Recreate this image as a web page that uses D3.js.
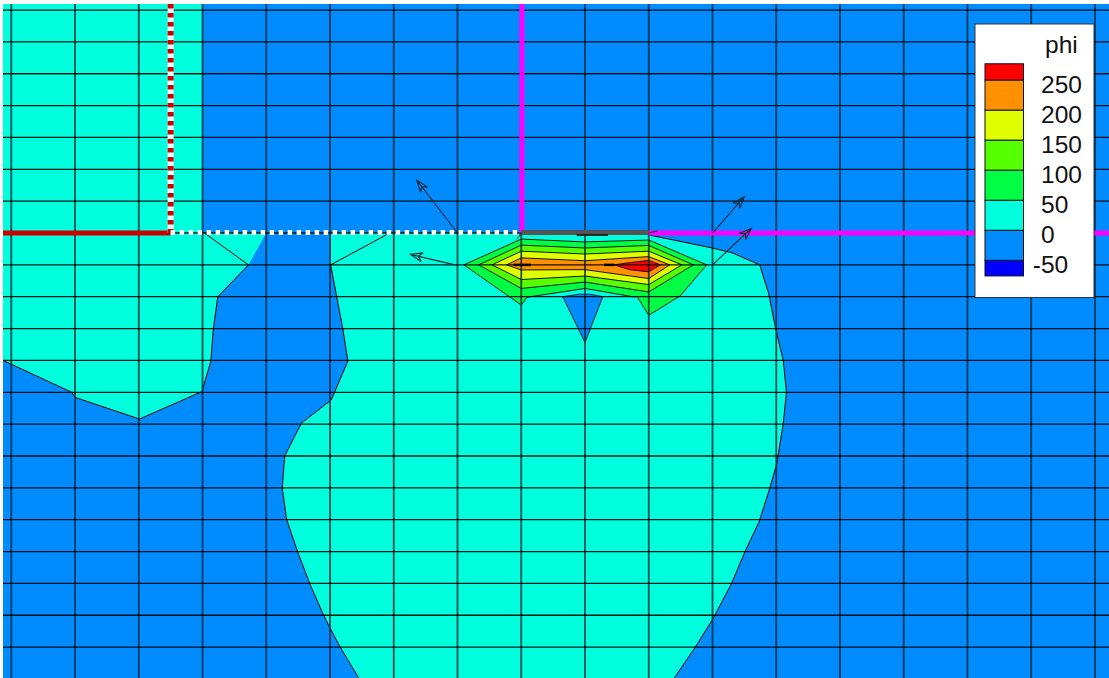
<!DOCTYPE html>
<html><head><meta charset="utf-8">
<script src="https://cdn.jsdelivr.net/npm/d3@7/dist/d3.min.js"></script>
<style>html,body{margin:0;padding:0;background:#fff;overflow:hidden}svg{display:block}</style>
</head><body><svg id="c" width="1109" height="678"></svg>
<script>
// Data is in mesh units: column index / row index of the structured grid.
const columns = d3.range(0, 18);
const rows = d3.range(0, 21);
const domainX = [-0.13, 17.22];
const domainY = [-0.19, 20.97];

const levelColors = ["#0000ff", "#008cff", "#00ffdd", "#00ff44", "#55ff00", "#dfff00", "#ff9100", "#ff0000"];
const legendEdges = [-76, -50, 0, 50, 100, 150, 200, 250, 277];
const legendLabels = [250, 200, 150, 100, 50, 0, -50];
const legendTitle = "phi";

const regionLeft = [[-0.13,-0.19],[3,-0.19],[3,7],[4,7],[3.72,8],[3.24,9],[3.17,10],[3.13,11.03],[2.99,11.98],[2.01,12.84],[1,12.16],[0.95,12],[-0.13,11.0]];
const lineLeft = [[3.03,7],[3.72,8],[3.24,9],[3.17,10],[3.13,11.03],[2.99,11.98],[2.01,12.84],[1,12.16],[0.95,12],[-0.13,11.0]];
const lineCentreLeft = [[5.9,7.04],[5.01,8],[5.2,10],[5.28,11.02],[5.02,12.24],[4.55,12.97],[4.29,14],[4.25,15],[4.32,16],[4.49,17],[4.68,18],[4.9,19],[5,19.4],[5.16,20],[5.46,21]];
const lineCentreRight = [[10,7.06],[11,7.47],[11.32,7.63],[11.74,8],[11.88,8.89],[11.99,10],[12.11,11],[12.16,12],[12.11,12.98],[12.01,14.23],[11.9,15],[11.73,16.07],[11.51,17],[11.3,18],[11.01,19.1],[10.73,20],[10.39,21]];
const regionCentre = [[5.01,7],[5.01,8],[5.2,10],[5.28,11.02],[5.02,12.24],[4.55,12.97],[4.29,14],[4.25,15],[4.32,16],[4.49,17],[4.68,18],[4.9,19],[5,19.4],[5.16,20],[5.46,21],[10.39,21],[10.73,20],[11.01,19.1],[11.3,18],[11.51,17],[11.73,16.07],[11.9,15],[12.01,14.23],[12.11,12.98],[12.16,12],[12.11,11],[11.99,10],[11.88,8.89],[11.74,8],[11.32,7.63],[11,7.47],[10,7.06],[10,7]];
const regionNotch = [[8.65,9],[8.91,8.92],[9.08,8.92],[9.28,9],[9,10.44]];

const band50 = [[7.1,8],[8,7.19],[9,7.28],[10,7.22],[10.91,8],[10.49,8.98],[10,9.58],[9.82,9],[9.75,9],[9,8.74],[8.14,9],[8.09,9.02],[8,9.26]];
const band100 = [[7.33,8],[8,7.38],[9,7.47],[10,7.39],[10.7,8],[10,8.85],[9,8.54],[8,8.74]];
const band150 = [[7.54,8],[8,7.57],[9,7.66],[10,7.57],[10.52,8],[10,8.62],[9,8.35],[8,8.46]];
const band200 = [[7.77,8],[8,7.78],[9,7.87],[10,7.74],[10.33,8],[10,8.43],[9,8.15],[8,8.16]];
const band250 = [[9.46,8],[9.7,7.93],[10,7.86],[10.18,8],[10,8.22],[9.7,8.15]];

const arrowsFromTo = [
  [[7,7],[6.36,5.34]],
  [[6.96,8],[6.26,7.67]],
  [[11,7],[11.5,5.86]],
  [[11,8],[11.61,6.85]]
];
const wallMagentaV = [[8.01,-0.19],[8.01,6.98]];
const wallMagentaH = [[10,7],[17.22,7]];
const wallRedH = [[-0.13,7],[2.5,7]];
const wallRedDashed = [[2.5,-0.19],[2.5,7]];
const wallWhite = [[2.5,6.98],[8,6.98]];
const wallGrey = [[8,6.98],[10,6.98]];
const contactMark = [[8.87,7.06],[9.36,7.06]];
const contactTicks = [[[8,7],[7.93,7.2]],[[10,7],[10.14,6.93]]];
const contactBlobs = [[[7.88,8],[8.15,8]],[[9.3,8],[9.46,8]]];

const W = 1109, H = 678, L = 3, T = 4;
const x = d3.scaleLinear().domain(domainX).range([L, W]);
const y = d3.scaleLinear().domain(domainY).range([T, H]);
const svg = d3.select("#c");
const plot = svg.append("g");
const line = d3.line().x(d => x(d[0])).y(d => y(d[1]));
const area = d => line(d) + "Z";

plot.append("rect").attr("x", L).attr("y", T).attr("width", W - L).attr("height", H - T).attr("fill", levelColors[1]);

[[regionLeft, levelColors[2]], [regionCentre, levelColors[2]], [regionNotch, levelColors[1]]].forEach(([d, c]) =>
  plot.append("path").attr("d", area(d)).attr("fill", c));

[lineLeft, lineCentreLeft, lineCentreRight].forEach(d =>
  plot.append("path").attr("d", line(d)).attr("fill", "none").attr("stroke", "#000").attr("stroke-width", 1));
plot.append("path").attr("d", area(regionNotch)).attr("fill", "none").attr("stroke", "#000").attr("stroke-width", 0.8);

[band50, band100, band150, band200, band250].forEach((d, i) =>
  plot.append("path").attr("d", area(d)).attr("fill", levelColors[3 + i]).attr("stroke", "#000").attr("stroke-width", 0.9).attr("stroke-linejoin", "round"));

const gridX = d3.axisTop(x).tickValues(columns).tickSize(-(H - T)).tickFormat("").offset(0);
const gridY = d3.axisLeft(y).tickValues(rows).tickSize(-(W - L)).tickFormat("").offset(0);
const gx = plot.append("g").attr("transform", `translate(0,${T})`).call(gridX);
const gy = plot.append("g").attr("transform", `translate(${L},0)`).call(gridY);
[gx, gy].forEach(g => { g.select(".domain").remove(); g.selectAll("line").attr("stroke", "#000"); });
gx.selectAll("line").attr("stroke", "#002a3a").attr("stroke-width", 1.8).attr("stroke-opacity", 0.85);
gy.selectAll("line").attr("stroke-width", 1.3).attr("stroke-opacity", 0.9);

const wall = (d, c, w, dash) => plot.append("path").attr("d", line(d)).attr("fill", "none")
  .attr("stroke", c).attr("stroke-width", w).attr("stroke-dasharray", dash || null);
wall(wallMagentaH, "#ff00ff", 5);
wall(wallMagentaV, "#ff00ff", 5);
wall(wallGrey, "#555555", 5);
wall(wallRedH, "#cc0000", 5);
wall(wallRedDashed, "#ffffff", 6);
wall(wallRedDashed, "#cc0000", 6, "4.5 4.5");
wall(wallWhite, "#ffffff", 5, "4.5 4.5");
wall(contactMark, "#222222", 2);
contactTicks.forEach(d => wall(d, "#223", 1));
contactBlobs.forEach(d => wall(d, "#000", 2.5));

const barbs = 13, spread = 20 * Math.PI / 180;
arrowsFromTo.forEach(([a, b]) => {
  const p0 = [x(a[0]), y(a[1])], p1 = [x(b[0]), y(b[1])];
  const ang = Math.atan2(p0[1] - p1[1], p0[0] - p1[0]);
  const h1 = [p1[0] + barbs * Math.cos(ang + spread), p1[1] + barbs * Math.sin(ang + spread)];
  const h2 = [p1[0] + barbs * Math.cos(ang - spread), p1[1] + barbs * Math.sin(ang - spread)];
  const m = [p1[0] + 8 * Math.cos(ang), p1[1] + 8 * Math.sin(ang)];
  plot.append("path").attr("d", `M${p0}L${p1}M${h1}L${p1}L${h2}M${h1}L${m}L${h2}`)
    .attr("fill", "none").attr("stroke", "#0a2a3a").attr("stroke-width", 1.1);
});

// Legend
const leg = svg.append("g");
const ly = d3.scaleLinear().domain([-50, 250]).range([260.3, 80]);
leg.append("rect").attr("x", 975).attr("y", 24).attr("width", 119).attr("height", 273.5)
  .attr("fill", "#fff").attr("stroke", "#333").attr("stroke-width", 1);
levelColors.forEach((c, i) => {
  const top = ly(legendEdges[i + 1]), bot = ly(legendEdges[i]);
  leg.append("rect").attr("x", 985).attr("y", top).attr("width", 38.5).attr("height", bot - top)
    .attr("fill", c).attr("stroke", "#111").attr("stroke-width", 1);
});
const font = "'Liberation Sans', Arial, sans-serif";
leg.selectAll("text.v").data(legendLabels).join("text").attr("class", "v")
  .attr("x", d => d < 0 ? 1032.8 : 1041).attr("y", d => ly(d) + 12.7)
  .attr("font-family", font).attr("font-size", 24.5).attr("fill", "#111").text(d => d);
leg.append("text").attr("x", 1045).attr("y", 52.7).attr("font-family", font).attr("font-size", 24.5).attr("fill", "#111").text(legendTitle);
</script></body></html>
